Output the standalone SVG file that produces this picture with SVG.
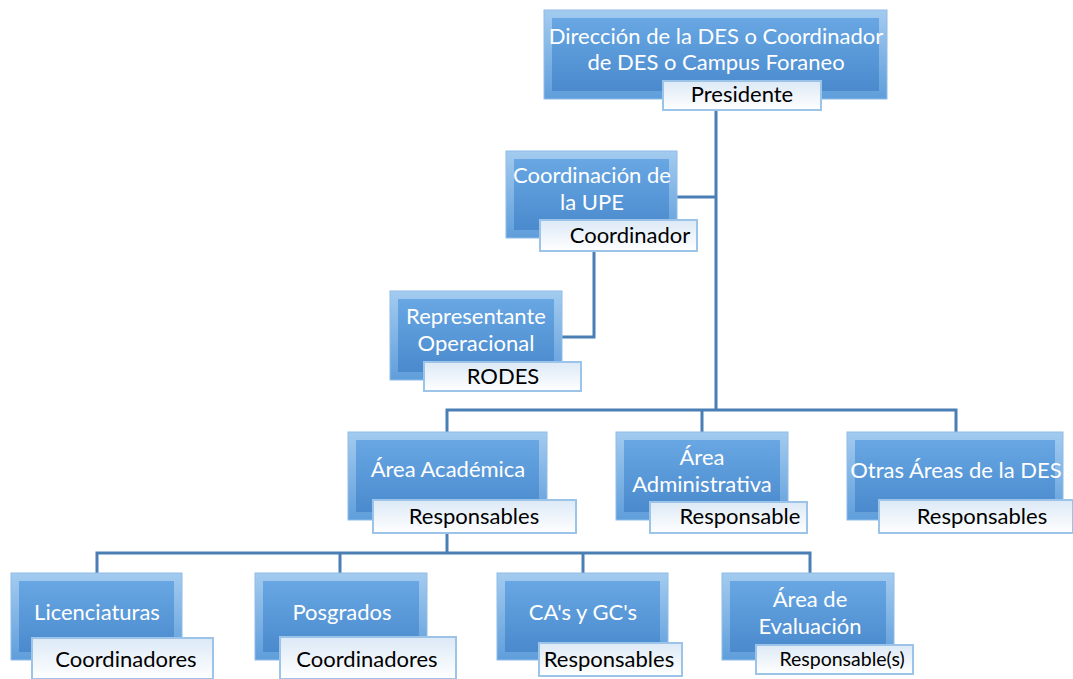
<svg xmlns="http://www.w3.org/2000/svg" width="1073" height="679" viewBox="0 0 1073 679">
<defs>
<linearGradient id="outer" x1="0" y1="0" x2="0" y2="1">
<stop offset="0" stop-color="#a3cbef"/>
<stop offset="1" stop-color="#5f9edb"/>
</linearGradient>
<linearGradient id="inner" x1="0" y1="0" x2="0" y2="1">
<stop offset="0" stop-color="#68a7e3"/>
<stop offset="1" stop-color="#4a8acd"/>
</linearGradient>
<linearGradient id="lab" x1="0" y1="0" x2="0" y2="1">
<stop offset="0" stop-color="#dce9f6"/>
<stop offset="1" stop-color="#ffffff"/>
</linearGradient>
</defs>
<style>
.o{fill:url(#outer);stroke:#8fbce8;stroke-width:1}
.i{fill:url(#inner)}
.l{fill:url(#lab);stroke:#9cc3e8;stroke-width:2}
.t{font-family:Lato,"Open Sans",sans-serif;font-size:22px;fill:#ffffff;text-anchor:middle}
.k{font-family:Lato,"Open Sans",sans-serif;font-size:22px;fill:#000000;text-anchor:middle}
.c{fill:none;stroke:#4a7fb5;stroke-width:3}
</style>
<rect width="1073" height="679" fill="#ffffff"/>
<g id="connectors">
<polyline class="c" points="716,110 716,410"/>
<polyline class="c" points="677,197 716,197"/>
<polyline class="c" points="594,251 594,337 562,337"/>
<polyline class="c" points="447,432 447,410 956,410 956,432"/>
<polyline class="c" points="702,410 702,432"/>
<polyline class="c" points="447,533 447,553"/>
<polyline class="c" points="97,573 97,553 810,553 810,573"/>
<polyline class="c" points="340,553 340,573"/>
<polyline class="c" points="583,553 583,573"/>
</g>
<g id="n1">
<rect class="o" x="544" y="10" width="343" height="89"/>
<rect class="i" x="552" y="18" width="327" height="73"/>
<text class="t" x="716" y="44">Dirección de la DES o Coordinador</text>
<text class="t" x="716" y="70">de DES o Campus Foraneo</text>
<rect class="l" x="663" y="81" width="158" height="29"/>
<text class="k" x="742" y="102">Presidente</text>
</g>
<g id="n2">
<rect class="o" x="506" y="151" width="171" height="87"/>
<rect class="i" x="514" y="159" width="155" height="71"/>
<text class="t" x="592" y="183">Coordinación de</text>
<text class="t" x="592" y="210">la UPE</text>
<rect class="l" x="540" y="220" width="157" height="31"/>
<text class="k" x="630" y="243">Coordinador</text>
</g>
<g id="n3">
<rect class="o" x="390" y="291" width="172" height="89"/>
<rect class="i" x="398" y="299" width="156" height="73"/>
<text class="t" x="476" y="324">Representante</text>
<text class="t" x="476" y="351">Operacional</text>
<rect class="l" x="424" y="362" width="157" height="29"/>
<text class="k" x="503" y="384">RODES</text>
</g>
<g id="n4">
<rect class="o" x="348" y="432" width="199" height="88"/>
<rect class="i" x="356" y="440" width="183" height="72"/>
<text class="t" x="448" y="477">Área Académica</text>
<rect class="l" x="373" y="500" width="203" height="33"/>
<text class="k" x="474" y="524">Responsables</text>
</g>
<g id="n5">
<rect class="o" x="616" y="432" width="172" height="88"/>
<rect class="i" x="624" y="440" width="156" height="72"/>
<text class="t" x="702" y="465">Área</text>
<text class="t" x="702" y="492">Administrativa</text>
<rect class="l" x="650" y="502" width="157" height="31"/>
<text class="k" x="740" y="524">Responsable</text>
</g>
<g id="n6">
<rect class="o" x="847" y="432" width="216" height="88"/>
<rect class="i" x="855" y="440" width="200" height="72"/>
<text class="t" x="956" y="478">Otras Áreas de la DES</text>
<rect class="l" x="879" y="500" width="194" height="33"/>
<text class="k" x="982" y="524">Responsables</text>
</g>
<g id="n7">
<rect class="o" x="11" y="573" width="171" height="87"/>
<rect class="i" x="19" y="581" width="155" height="71"/>
<text class="t" x="97" y="620">Licenciaturas</text>
<rect class="l" x="32" y="638" width="181" height="41"/>
<text class="k" x="126" y="667">Coordinadores</text>
</g>
<g id="n8">
<rect class="o" x="255" y="573" width="172" height="87"/>
<rect class="i" x="263" y="581" width="156" height="71"/>
<text class="t" x="342" y="620">Posgrados</text>
<rect class="l" x="280" y="637" width="176" height="42"/>
<text class="k" x="367" y="667">Coordinadores</text>
</g>
<g id="n9">
<rect class="o" x="497" y="573" width="171" height="87"/>
<rect class="i" x="505" y="581" width="155" height="71"/>
<text class="t" x="583" y="620">CA's y GC's</text>
<rect class="l" x="539" y="643" width="143" height="33"/>
<text class="k" x="609" y="667">Responsables</text>
</g>
<g id="n10">
<rect class="o" x="722" y="573" width="172" height="87"/>
<rect class="i" x="730" y="581" width="156" height="71"/>
<text class="t" x="810" y="607">Área de</text>
<text class="t" x="810" y="634">Evaluación</text>
<rect class="l" x="756" y="645" width="157" height="29"/>
<text class="k" x="842" y="666" style="font-size:19.5px">Responsable(s)</text>
</g>
</svg>
